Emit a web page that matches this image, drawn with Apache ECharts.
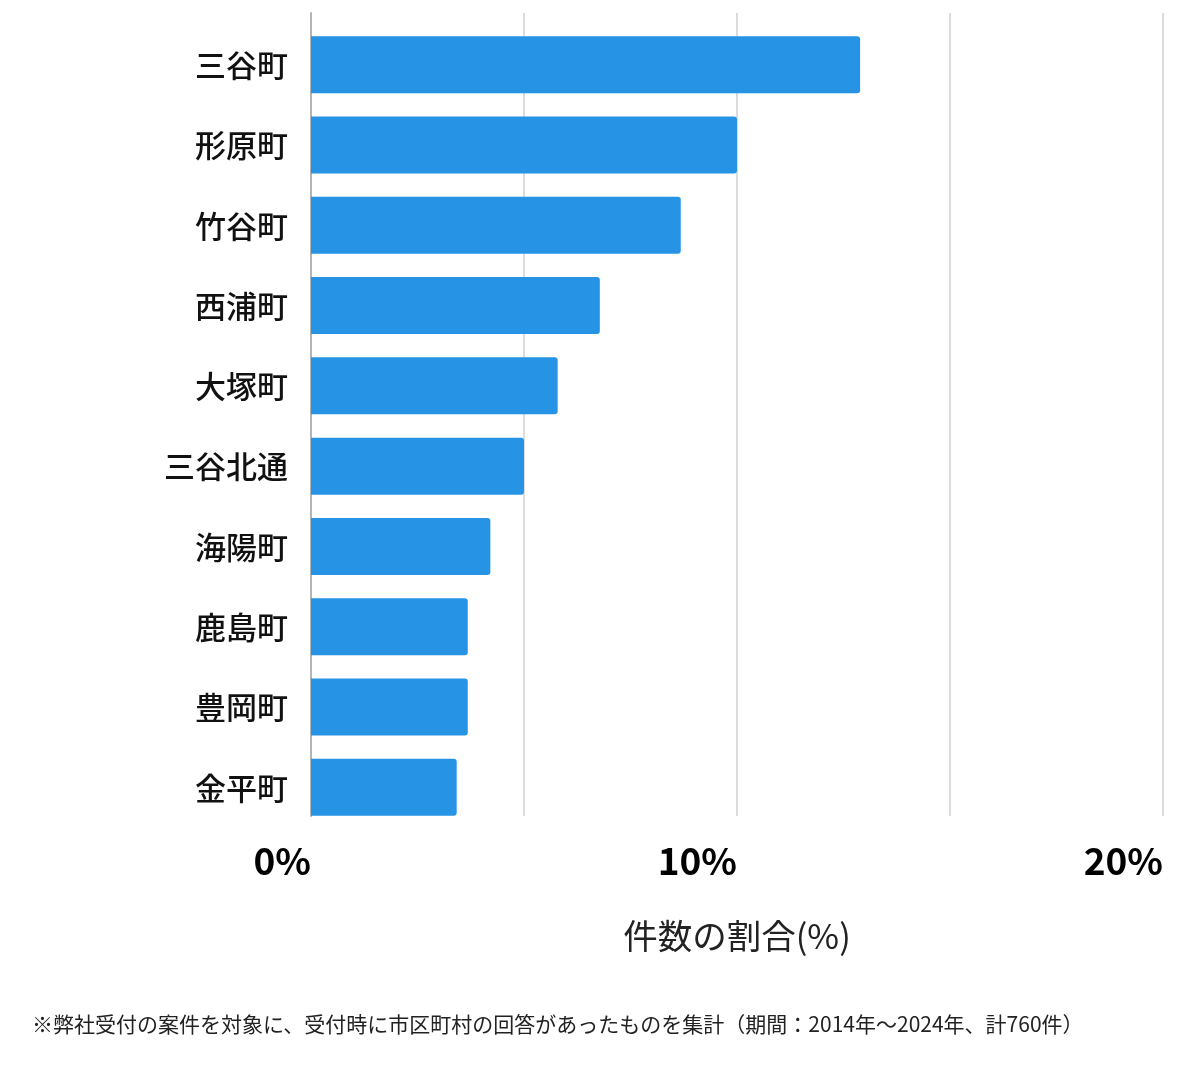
<!DOCTYPE html>
<html>
<head>
<meta charset="utf-8">
<script src="https://cdn.jsdelivr.net/npm/echarts@6/dist/echarts.min.js"></script>
<style>
html,body{margin:0;padding:0;background:#fff;}
#chart{width:1200px;height:1069px;}
</style>
</head>
<body>
<div id="chart"></div>
<script>
const categories = ['三谷町','形原町','竹谷町','西浦町','大塚町','三谷北通','海陽町','鹿島町','豊岡町','金平町'];
const shares = [12.89, 10.0, 8.68, 6.78, 5.79, 5.0, 4.21, 3.68, 3.68, 3.42];
const tickLabels = {0: '0%', 10: '10%', 20: '20%'};
const axisTitle = '件数の割合(%)';
const footnote = '※弊社受付の案件を対象に、受付時に市区町村の回答があったものを集計（期間：2014年～2024年、計760件）';

const chart = echarts.init(document.getElementById('chart'), null, {renderer: 'canvas'});
const font = '"Noto Sans CJK JP", "Noto Sans", sans-serif';
chart.setOption({
  animation: false,
  backgroundColor: '#fff',
  grid: {left: 311, right: 37, top: 13, height: 803, containLabel: false},
  xAxis: {
    type: 'value', min: 0, max: 20, interval: 5,
    axisLine: {show: false}, axisTick: {show: false},
    splitLine: {show: true, lineStyle: {color: '#dcdcdc', width: 2}},
    axisLabel: {
      formatter: v => tickLabels[v] || '',
      fontFamily: font, fontWeight: 'bold', fontSize: 37, color: '#000',
      align: 'right', margin: 26
    },
    name: axisTitle, nameLocation: 'middle', nameGap: 103,
    nameTextStyle: {fontFamily: font, fontSize: 34.5, color: '#222'}
  },
  yAxis: {
    type: 'category', data: categories, inverse: true,
    axisLine: {show: true, lineStyle: {color: '#b4b4b4', width: 2}},
    axisTick: {show: false},
    axisLabel: {fontFamily: font, fontWeight: 500, fontSize: 31, color: '#111', margin: 23, verticalAlign: 'top', lineHeight: 24}
  },
  series: [
    {type: 'bar', name: 'pad', data: categories.map(() => 0), barWidth: 23, barGap: '0%', itemStyle: {color: 'rgba(0,0,0,0)'}, silent: true},
    {type: 'bar', name: 'share', data: shares, barWidth: 57, barGap: '0%', itemStyle: {color: '#2693e5', borderRadius: [0, 3, 3, 0]}}
  ],
  graphic: [{
    type: 'text', left: 32, top: 1014,
    style: {text: footnote, fontFamily: font, fontSize: 21, fill: '#222'}
  }]
});
</script>
</body>
</html>
